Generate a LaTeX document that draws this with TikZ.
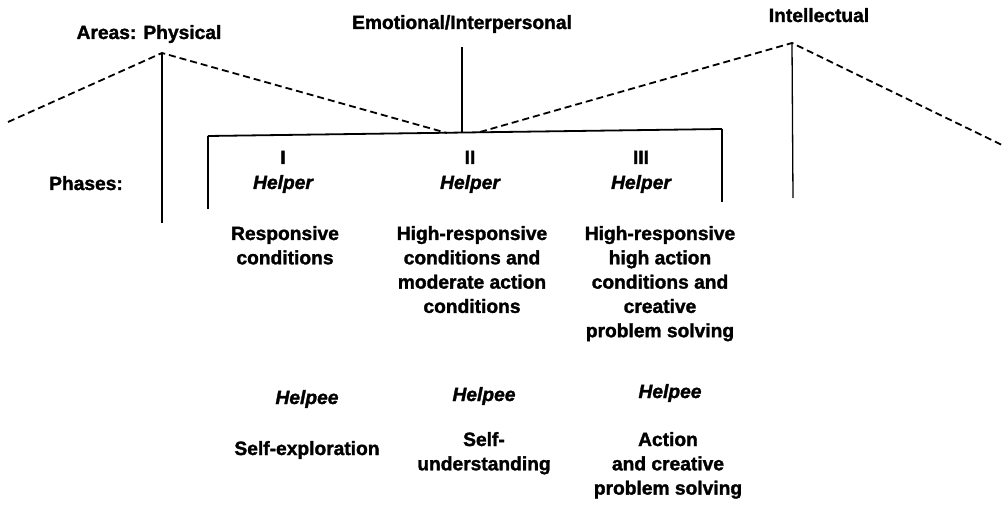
\documentclass[tikz,border=0pt]{standalone}
\usepackage{fontspec}
\setmainfont{Liberation Sans}[BoldFeatures={FakeBold=1.6}, BoldItalicFeatures={FakeBold=1.6}]
\begin{document}
\begin{tikzpicture}[x=1pt,y=-1pt,
  lbl/.style={font=\fontsize{19.2}{24.3}\selectfont\bfseries, anchor=base, inner sep=0pt, align=center},
  ital/.style={lbl, font=\fontsize{19.2}{24.3}\selectfont\bfseries\itshape},
  rule/.style={line width=1.3pt},
  bracket/.style={line width=1.8pt},
  area/.style={line width=1.8pt, dash pattern=on 7pt off 4pt}]
\useasboundingbox (0,0) rectangle (1005,505);

% area labels
\node[lbl] (phys)  at (149,39) {Areas: Physical};
\node[lbl] (emo)   at (462,29) {Emotional/Interpersonal};
\node[lbl] (intel) at (819,22) {Intellectual};
\node[lbl] (phases) at (86,190) {Phases:};

% line end points
\coordinate (lstart) at (8,122);
\coordinate (ppk) at (162,53);
\coordinate (pbot) at (162,223);
\coordinate (ml) at (447,133);
\coordinate (mr) at (480,132);
\coordinate (ipk) at (792,43);
\coordinate (ibot) at (793,198);
\coordinate (rend) at (1002,145);
\coordinate (etop) at (462,47);
\coordinate (emid) at (462,133);
\coordinate (blbot) at (208,209);
\coordinate (bltop) at (208,136);
\coordinate (brtop) at (722,129);
\coordinate (brbot) at (722,202);

% dashed area profile
\draw[area] (lstart) -- (ppk) -- (ml);
\draw[area] (mr) -- (ipk) -- (rend);

% area verticals
\draw[rule] (ppk) -- (pbot);
\draw[rule] (etop) -- (emid);
\draw[rule] (ipk) -- (ibot);

% phase bracket
\draw[bracket] (bltop) -- (brtop);
\draw[rule] (bltop) -- (blbot);
\draw[rule] (brtop) -- (brbot);

% phase headers
\node[lbl] (n1) at (283,164) {I};
\node[lbl] (n2) at (470,164) {II};
\node[lbl] (n3) at (641,164) {III};
\node[ital] (h1) at (283,189) {Helper};
\node[ital] (h2) at (470,189) {Helper};
\node[ital] (h3) at (641,189) {Helper};

% helper conditions (anchored at the baseline of the last line)
\node[lbl] (c1) at (285,264.3) {Responsive\\conditions};
\node[lbl] (c2) at (472,312.9) {High-responsive\\conditions and\\moderate action\\conditions};
\node[lbl] (c3) at (660,337.2) {High-responsive\\high action\\conditions and\\creative\\problem solving};

% helpee outcomes
\node[ital] (p1) at (307,404) {Helpee};
\node[ital] (p2) at (484,401) {Helpee};
\node[ital] (p3) at (670,398) {Helpee};
\node[lbl] (o1) at (307,455) {Self-exploration};
\node[lbl] (o2) at (484,470.3) {Self-\\understanding};
\node[lbl] (o3) at (668,494.6) {Action\\and creative\\problem solving};
\end{tikzpicture}
\end{document}
